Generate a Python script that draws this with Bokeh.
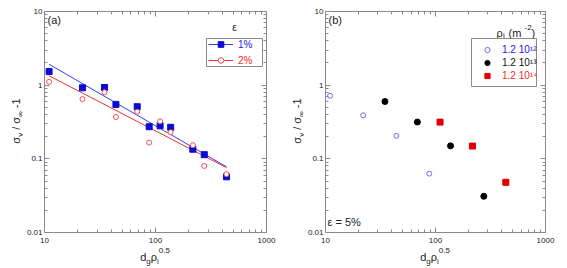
from bokeh.plotting import figure
from bokeh.models import Label, Legend, LegendItem, FixedTicker, LogAxis, BoxAnnotation, Div
from bokeh.layouts import row, column
from bokeh.embed import file_html
from bokeh.resources import INLINE

# ---------------- data ----------------
x_ticks = [10, 100, 1000]
x_tick_labels = ["10", "100", "1000"]
y_ticks = [0.01, 0.1, 1, 10]
y_tick_labels = ["0.01", "0.1", "1", "10"]

# panel (a): d_g * rho_i^0.5 and sigma_y/sigma_inf - 1
dg_a = [11, 22, 34.7, 44, 68.4, 87.7, 110, 137, 217, 275, 436]
eps1 = [1.53, 0.92, 0.93, 0.548, 0.51, 0.273, 0.281, 0.268, 0.135, 0.114, 0.057]
eps2 = [1.11, 0.647, 0.80, 0.37, 0.435, 0.166, 0.323, 0.23, 0.153, 0.080, 0.062]
fit_x = [11, 436]
fit_eps1 = [1.92, 0.078]
fit_eps2 = [1.34, 0.076]
eps_labels = ["1%", "2%"]

# panel (b): epsilon = 5 %, three dislocation densities
rho12_x = [11, 22, 44, 87.7]
rho12_y = [0.716, 0.39, 0.205, 0.063]
rho13_x = [34.7, 68.4, 137, 275]
rho13_y = [0.60, 0.316, 0.15, 0.031]
rho14_x = [110, 217, 436]
rho14_y = [0.315, 0.149, 0.048]
rho_labels = ["1.2 10\u00b9\u00b2", "1.2 10\u00b9\u00b3", "1.2 10\u00b9\u2074"]

FONT = "Liberation Sans"
AX = "#8a8a8a"
TXT = "#222222"
BLUE_PTS = "#0a0ad2"
BLUE_LINE = "#3040f0"
BLUE_TXT = "#2020e0"
RED_LINE = "#ee3030"
RED_PTS = "#ee5050"
RED_TXT = "#ee2a2a"
B12 = "#6f6ff0"
B13 = "#000000"
B14 = "#e00000"

MAIN_H = 247
XLAB_H = 20
YAX = 22  # width taken by the left axis (tick labels)

Y_LABEL_HTML = ("σ<span style='font-size:8px;position:relative;top:3px'>y</span> / "
                "σ<span style='font-size:8px;position:relative;top:3px'>∞</span> -1")
X_LABEL_HTML = ("d<span style='font-size:8px;position:relative;top:3px'>g</span>"
                "ρ<span style='font-size:8px;position:relative;top:3px'>i</span>"
                "<span style='font-size:8px;position:relative;top:-8px'>0.5</span>")


def minor(ticks):
    out = []
    for t in ticks[:-1]:
        out += [t * k for k in range(2, 10)]
    return out


def style_axis(ax, labels_on, ticks, labels):
    ax.ticker = FixedTicker(ticks=ticks, minor_ticks=minor(ticks))
    ax.axis_line_color = AX
    ax.major_tick_line_color = AX
    ax.minor_tick_line_color = AX
    ax.major_tick_in = 5
    ax.major_tick_out = 0
    ax.minor_tick_in = 3
    ax.minor_tick_out = 0
    ax.axis_label = None
    if labels_on:
        ax.major_label_overrides = {t: l for t, l in zip(ticks, labels)}
        ax.major_label_text_font = FONT
        ax.major_label_text_font_size = "8px"
        ax.major_label_text_color = TXT
    else:
        ax.major_label_overrides = {t: "" for t in ticks}
        ax.major_label_text_font_size = "0px"
        ax.major_label_standoff = 0


def make_fig(width, right):
    p = figure(width=width, height=MAIN_H, x_axis_type="log", y_axis_type="log",
               x_range=(10, 1000), y_range=(0.01, 10), output_backend="svg",
               toolbar_location=None, min_border_left=YAX, min_border_right=right,
               min_border_top=11, min_border_bottom=15)
    p.grid.visible = False
    p.outline_line_color = None
    style_axis(p.xaxis[0], True, x_ticks, x_tick_labels)
    p.xaxis[0].major_label_standoff = 5
    style_axis(p.yaxis[0], True, y_ticks, y_tick_labels)
    p.yaxis[0].major_label_standoff = 2
    ax_r = LogAxis()
    style_axis(ax_r, False, y_ticks, y_tick_labels)
    p.add_layout(ax_r, "right")
    ax_t = LogAxis()
    style_axis(ax_t, False, x_ticks, x_tick_labels)
    p.add_layout(ax_t, "above")
    return p


def y_label_div(width, baseline_x, center_y):
    html = (f"<div style='position:relative;width:{width}px;height:{MAIN_H}px;'>"
            f"<span style=\"position:absolute;left:0;top:0;white-space:nowrap;"
            f"font-family:'{FONT}';font-size:11px;line-height:11px;color:{TXT};"
            f"transform-origin:0 0;transform:translate({baseline_x - 9.3}px,{center_y}px) "
            f"rotate(-90deg) translate(-50%,0);\">{Y_LABEL_HTML}</span></div>")
    return Div(text=html, width=width, height=MAIN_H, margin=(0, 0, 0, 0))


def x_label_div(width, center_x, baseline_y):
    html = (f"<div style='position:relative;width:{width}px;height:{XLAB_H}px;'>"
            f"<span style=\"position:absolute;left:{center_x}px;top:{baseline_y - 9.3}px;"
            f"white-space:nowrap;font-family:'{FONT}';font-size:11px;line-height:11px;"
            f"color:{TXT};transform:translate(-50%,0);\">{X_LABEL_HTML}</span></div>")
    return Div(text=html, width=width, height=XLAB_H, margin=(0, 0, 0, 0))


def one_legend(p, renderers, label, color, loc, gw, gh, standoff):
    leg = Legend(items=[LegendItem(label=label, renderers=renderers)], location=loc,
                 border_line_color=None, background_fill_alpha=0, padding=0, margin=0,
                 spacing=0, glyph_width=gw, glyph_height=gh, label_height=gh,
                 label_standoff=standoff, label_text_font=FONT, label_text_font_size="10px",
                 label_text_color=color, label_text_baseline="middle")
    p.add_layout(leg)


def box(p, left, right, bottom, top):
    p.add_layout(BoxAnnotation(left=left, right=right, bottom=bottom, top=top,
                               left_units="screen", right_units="screen",
                               bottom_units="screen", top_units="screen",
                               fill_alpha=0, line_color=AX, line_width=1, line_alpha=1))


def lab(p, x, y, text, size="11px", color=TXT, align="left", baseline="alphabetic"):
    p.add_layout(Label(x=x, y=y, x_units="screen", y_units="screen", text=text,
                       text_font=FONT, text_font_size=size, text_color=color,
                       text_align=align, text_baseline=baseline))


# ---------------- panel (a) ----------------
pa = make_fig(260, 16)
f1 = pa.line(fit_x, fit_eps1, line_color=BLUE_LINE, line_width=1)
f2 = pa.line(fit_x, fit_eps2, line_color=RED_LINE, line_width=1)
s1 = pa.scatter(dg_a, eps1, marker="square", size=6, fill_color=BLUE_PTS, line_color=BLUE_PTS)
s2 = pa.scatter(dg_a, eps2, marker="circle", size=5, fill_color="white", line_color=RED_PTS,
                line_width=1)
lab(pa, 3, 219, "(a)", baseline="top")
lab(pa, 190, 205, "ε", size="10px", align="center", baseline="middle")
box(pa, 162, 218, 166, 194)
one_legend(pa, [f1, s1], eps_labels[0], BLUE_TXT, (164, 181), 25, 14, 5)
one_legend(pa, [f2, s2], eps_labels[1], RED_TXT, (164, 165), 25, 14, 5)

# ---------------- panel (b) ----------------
pb = make_fig(263, 21)
r12 = pb.scatter(rho12_x, rho12_y, marker="circle", size=5, fill_color="white",
                 line_color=B12, line_width=1)
r13 = pb.scatter(rho13_x, rho13_y, marker="circle", size=6, fill_color=B13, line_color=B13)
r14 = pb.scatter(rho14_x, rho14_y, marker="square", size=6, fill_color=B14, line_color=B14)
lab(pb, 3, 219, "(b)", baseline="top")
lab(pb, 2, 11, "ε = 5%")
# legend title: rho_i (m^-2)
lab(pb, 171, 200, "ρ")
lab(pb, 177.5, 197, "i", size="8px")
lab(pb, 183, 200, "(m")
lab(pb, 199, 205, "-2", size="8px")
lab(pb, 206, 200, ")")
box(pb, 146, 211, 146, 194)
one_legend(pb, [r12], rho_labels[0], BLUE_TXT, (155, 176), 14, 13, 8)
one_legend(pb, [r13], rho_labels[1], "#111111", (155, 163), 14, 13, 8)
one_legend(pb, [r14], rho_labels[2], RED_TXT, (155, 150), 14, 13, 8)

col_a = column(row(y_label_div(22, 20, 121), pa), x_label_div(282, 155, 14))
col_b = column(row(y_label_div(21, 19, 121), pb), x_label_div(284, 153, 14))
layout = row(col_a, col_b)
open("out.html", "w").write(file_html(layout, INLINE))
